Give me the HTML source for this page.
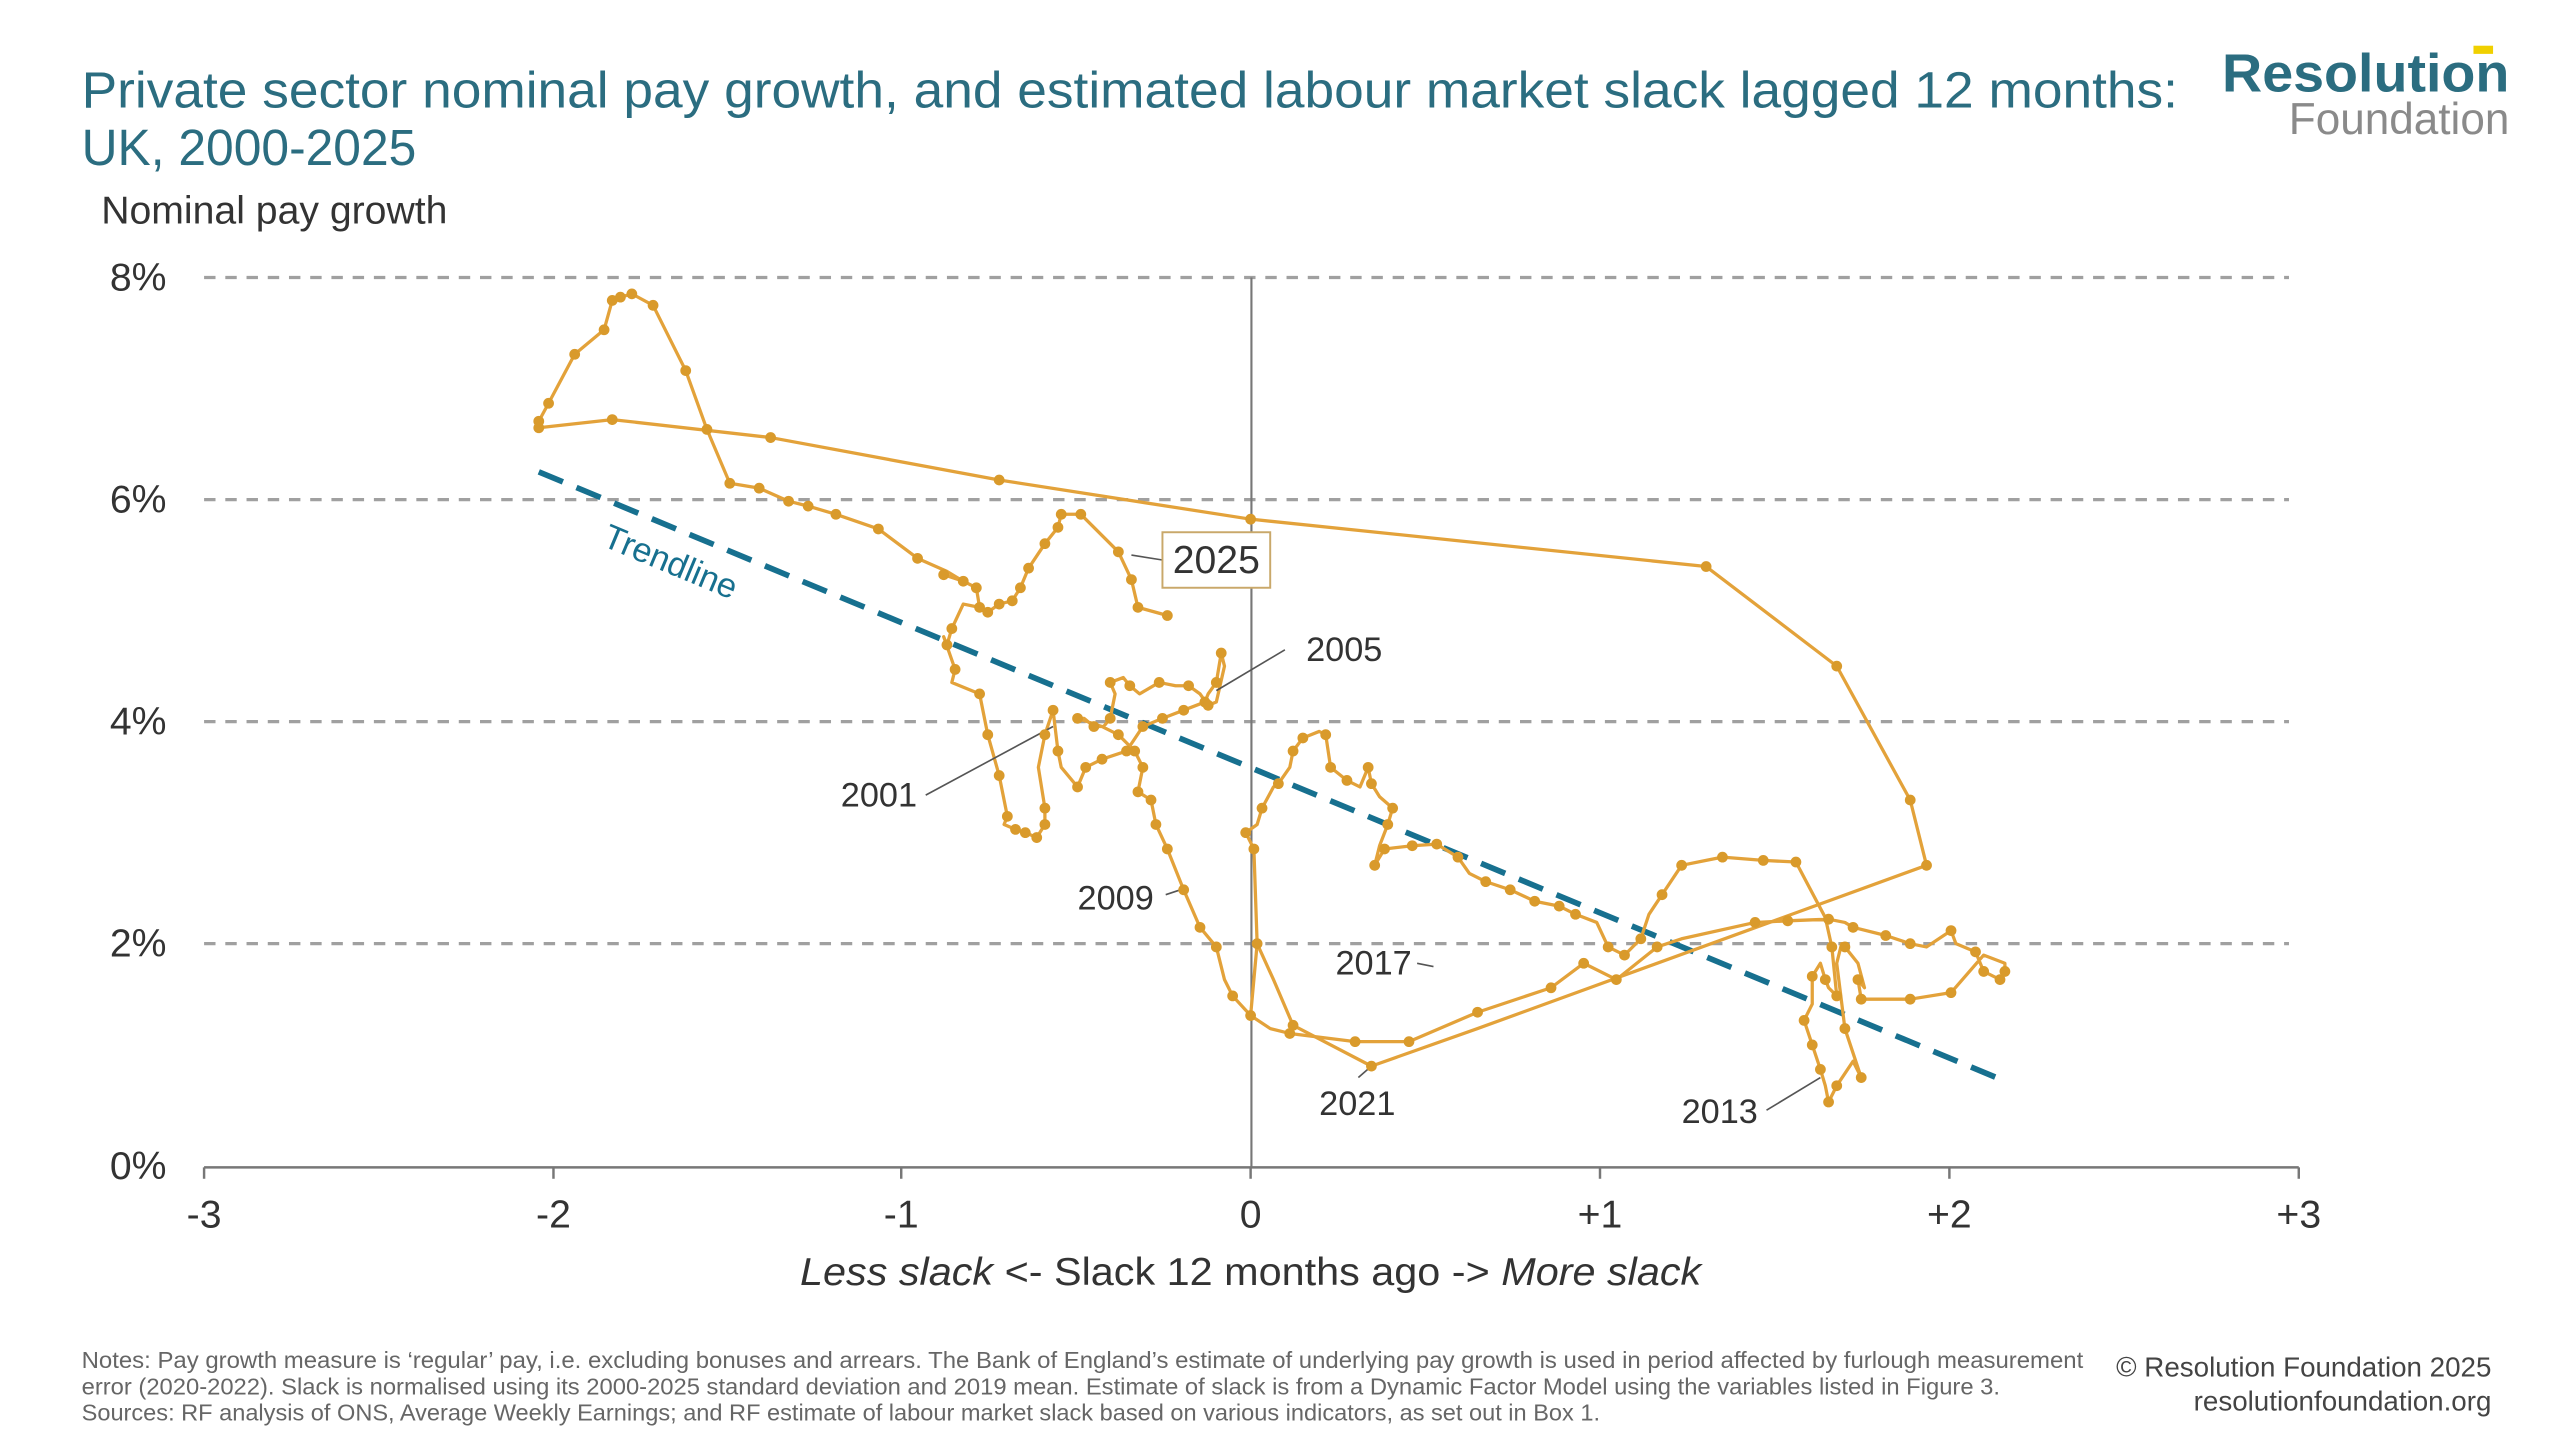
<!DOCTYPE html>
<html><head><meta charset="utf-8"><style>
html,body{margin:0;padding:0;background:#fff;}
svg{display:block;}
text{font-family:"Liberation Sans",sans-serif;}
</style></head><body>
<svg width="2560" height="1440" viewBox="0 0 1568 882" xmlns="http://www.w3.org/2000/svg">
<rect width="1568" height="882" fill="#fff"/>
<text x="50" y="66" font-size="31" fill="#2b6d80" textLength="1284" lengthAdjust="spacingAndGlyphs">Private sector nominal pay growth, and estimated labour market slack lagged 12 months:</text>
<text x="50" y="101" font-size="31" fill="#2b6d80" textLength="205" lengthAdjust="spacingAndGlyphs">UK, 2000-2025</text>
<text x="1537" y="56" font-size="33" font-weight="bold" fill="#2b6d80" text-anchor="end" textLength="176" lengthAdjust="spacingAndGlyphs">Resolution</text>
<rect x="1515" y="28" width="12" height="5" fill="#f0d000"/>
<text x="1537" y="82" font-size="27" fill="#8a8a8a" text-anchor="end">Foundation</text>
<text x="62" y="137" font-size="24" fill="#333">Nominal pay growth</text>
<g stroke="#a0a0a0" stroke-width="2" stroke-dasharray="7,6">
<line x1="125" y1="170" x2="1402" y2="170"/>
<line x1="125" y1="306" x2="1402" y2="306"/>
<line x1="125" y1="442" x2="1402" y2="442"/>
<line x1="125" y1="578" x2="1402" y2="578"/>
</g>
<line x1="766.5" y1="170" x2="766.5" y2="715" stroke="#777" stroke-width="1.3"/>
<line x1="125" y1="715" x2="1408" y2="715" stroke="#777" stroke-width="1.5"/>
<g stroke="#777" stroke-width="1.5">
<line x1="125" y1="715" x2="125" y2="722"/><line x1="339" y1="715" x2="339" y2="722"/><line x1="552" y1="715" x2="552" y2="722"/><line x1="766" y1="715" x2="766" y2="722"/><line x1="980" y1="715" x2="980" y2="722"/><line x1="1194" y1="715" x2="1194" y2="722"/><line x1="1408" y1="715" x2="1408" y2="722"/>
</g>
<g font-size="24" fill="#333" text-anchor="end">
<text x="102" y="178">8%</text><text x="102" y="314">6%</text><text x="102" y="450">4%</text><text x="102" y="586">2%</text><text x="102" y="722">0%</text>
</g>
<g font-size="24" fill="#333" text-anchor="middle">
<text x="125" y="752">-3</text><text x="339" y="752">-2</text><text x="552" y="752">-1</text><text x="766" y="752">0</text><text x="980" y="752">+1</text><text x="1194" y="752">+2</text><text x="1408" y="752">+3</text>
</g>
<text x="766" y="787" font-size="24" fill="#333" text-anchor="middle" textLength="552" lengthAdjust="spacingAndGlyphs"><tspan font-style="italic">Less slack</tspan> &lt;- Slack 12 months ago -&gt; <tspan font-style="italic">More slack</tspan></text>
<line x1="330" y1="289" x2="1230" y2="663" stroke="#17708f" stroke-width="3.5" stroke-dasharray="16,9"/>
<text x="0" y="0" font-size="21" fill="#17708f" transform="translate(368,334) rotate(22.6)">Trendline</text>
<g fill="none" stroke="#e3a23a" stroke-width="2" stroke-linejoin="round">
<polyline points="578,352 590,356 598,360 600,372 590,370 583,385 580,395 578,390 585,410 583,418 600,425 605,450 612,475 617,500 615,505 622,508 628,510 635,513 640,505 640,495 636,470 640,450 645,435 648,460 650,470 660,482 665,470 675,465 690,460 700,445 712,440 725,435 738,430 740,425 745,418 748,400 750,408 745,430 740,432 735,425 728,420 720,420 710,418 698,425 692,420 688,415 680,418 683,425 680,440 676,445 670,445 664,440 660,440 675,445 685,450 695,460 700,470 697,485 705,490 708,505 715,520 725,545 735,568 745,580 750,600 755,610 766,622 778,630 790,633 830,638 863,638 905,620 950,605 970,590 990,600 1015,580 1030,575 1075,565 1095,564 1120,563 1130,565 1135,568 1155,573 1170,578 1180,580 1195,570 1198,578 1210,583 1215,595 1225,600 1228,595 1228,590 1215,585 1195,608 1170,612 1140,612 1138,600 1142,605 1138,590 1130,580 1128,578 1125,590 1130,630 1140,660 1135,650 1125,665 1120,675 1118,665 1115,655 1110,640 1105,625 1110,615 1110,598 1115,590 1118,600 1120,605 1125,610 1122,580 1118,562 1100,528 1080,527 1055,525 1045,527 1030,530 1018,548 1010,560 1005,575 995,585 985,580 978,565 965,560 955,555 940,552 925,545 910,540 900,535 893,525 880,517 865,518 848,520 842,530 845,518 850,505 853,495 845,488 840,480 838,470 833,482 825,478 815,470 812,450 808,448 798,452 792,460 790,470 783,480 780,482 773,495 770,505 763,510 768,520 770,578 766,622"/>
<polyline points="770,578 780,600 792,628 840,653 905,630 1180,530 1170,490 1125,408 1045,347 766,318 612,294 472,268 375,257 330,262 330,258 336,247 352,217 370,202 375,184 380,182 387,180 400,187 420,227 433,263 447,296 465,299 483,307 495,310 512,315 538,324 562,342 580,350 590,356"/>
<polyline points="605,375 612,370 620,368 625,360 630,348 640,333 648,323 650,315 662,315 685,338 693,355 697,372 715,377"/>
</g>
<g stroke="#555" stroke-width="1" fill="none">
<line x1="567" y1="487" x2="645" y2="445"/><line x1="787" y1="398" x2="745" y2="423"/><line x1="714" y1="548" x2="723" y2="545"/><line x1="868" y1="590" x2="878" y2="592"/><line x1="832" y1="660" x2="840" y2="653"/><line x1="1082" y1="680" x2="1115" y2="660"/><line x1="712" y1="343" x2="693" y2="340"/>
</g>
<g font-size="21" fill="#333">
<text x="515" y="494">2001</text><text x="800" y="405">2005</text><text x="660" y="557">2009</text><text x="818" y="597">2017</text><text x="808" y="683">2021</text><text x="1030" y="688">2013</text>
</g>
<rect x="712" y="326" width="66" height="34" fill="#fff" stroke="#c9a86a" stroke-width="1.2"/>
<text x="745" y="351" font-size="24" fill="#333" text-anchor="middle">2025</text>
<g font-size="14.3" fill="#666">
<text x="50" y="838" textLength="1226" lengthAdjust="spacingAndGlyphs">Notes: Pay growth measure is ‘regular’ pay, i.e. excluding bonuses and arrears. The Bank of England’s estimate of underlying pay growth is used in period affected by furlough measurement</text>
<text x="50" y="854" textLength="1175" lengthAdjust="spacingAndGlyphs">error (2020-2022). Slack is normalised using its 2000-2025 standard deviation and 2019 mean. Estimate of slack is from a Dynamic Factor Model using the variables listed in Figure 3.</text>
<text x="50" y="870" textLength="930" lengthAdjust="spacingAndGlyphs">Sources: RF analysis of ONS, Average Weekly Earnings; and RF estimate of labour market slack based on various indicators, as set out in Box 1.</text>
</g>
<g font-size="17" fill="#444" text-anchor="end">
<text x="1526" y="843">© Resolution Foundation 2025</text>
<text x="1526" y="864">resolutionfoundation.org</text>
</g>
<g fill="#d99a2b">
<circle cx="578" cy="352" r="3.3"/><circle cx="590" cy="356" r="3.3"/><circle cx="598" cy="360" r="3.3"/><circle cx="600" cy="372" r="3.3"/><circle cx="583" cy="385" r="3.3"/><circle cx="580" cy="395" r="3.3"/><circle cx="585" cy="410" r="3.3"/><circle cx="600" cy="425" r="3.3"/><circle cx="605" cy="450" r="3.3"/><circle cx="612" cy="475" r="3.3"/><circle cx="617" cy="500" r="3.3"/><circle cx="622" cy="508" r="3.3"/><circle cx="628" cy="510" r="3.3"/><circle cx="635" cy="513" r="3.3"/><circle cx="640" cy="505" r="3.3"/><circle cx="640" cy="495" r="3.3"/><circle cx="640" cy="450" r="3.3"/><circle cx="645" cy="435" r="3.3"/><circle cx="648" cy="460" r="3.3"/><circle cx="660" cy="482" r="3.3"/><circle cx="665" cy="470" r="3.3"/><circle cx="675" cy="465" r="3.3"/><circle cx="690" cy="460" r="3.3"/><circle cx="700" cy="445" r="3.3"/><circle cx="712" cy="440" r="3.3"/><circle cx="725" cy="435" r="3.3"/><circle cx="738" cy="430" r="3.3"/><circle cx="745" cy="418" r="3.3"/><circle cx="748" cy="400" r="3.3"/><circle cx="740" cy="432" r="3.3"/><circle cx="728" cy="420" r="3.3"/><circle cx="710" cy="418" r="3.3"/><circle cx="692" cy="420" r="3.3"/><circle cx="680" cy="418" r="3.3"/><circle cx="680" cy="440" r="3.3"/><circle cx="670" cy="445" r="3.3"/><circle cx="660" cy="440" r="3.3"/><circle cx="685" cy="450" r="3.3"/><circle cx="695" cy="460" r="3.3"/><circle cx="700" cy="470" r="3.3"/><circle cx="697" cy="485" r="3.3"/><circle cx="705" cy="490" r="3.3"/><circle cx="708" cy="505" r="3.3"/><circle cx="715" cy="520" r="3.3"/><circle cx="725" cy="545" r="3.3"/><circle cx="735" cy="568" r="3.3"/><circle cx="745" cy="580" r="3.3"/><circle cx="755" cy="610" r="3.3"/><circle cx="766" cy="622" r="3.3"/><circle cx="790" cy="633" r="3.3"/><circle cx="830" cy="638" r="3.3"/><circle cx="863" cy="638" r="3.3"/><circle cx="905" cy="620" r="3.3"/><circle cx="950" cy="605" r="3.3"/><circle cx="970" cy="590" r="3.3"/><circle cx="990" cy="600" r="3.3"/><circle cx="1015" cy="580" r="3.3"/><circle cx="1075" cy="565" r="3.3"/><circle cx="1095" cy="564" r="3.3"/><circle cx="1120" cy="563" r="3.3"/><circle cx="1135" cy="568" r="3.3"/><circle cx="1155" cy="573" r="3.3"/><circle cx="1170" cy="578" r="3.3"/><circle cx="1195" cy="570" r="3.3"/><circle cx="1210" cy="583" r="3.3"/><circle cx="1215" cy="595" r="3.3"/><circle cx="1225" cy="600" r="3.3"/><circle cx="1228" cy="595" r="3.3"/><circle cx="1195" cy="608" r="3.3"/><circle cx="1170" cy="612" r="3.3"/><circle cx="1140" cy="612" r="3.3"/><circle cx="1138" cy="600" r="3.3"/><circle cx="1130" cy="580" r="3.3"/><circle cx="1130" cy="630" r="3.3"/><circle cx="1140" cy="660" r="3.3"/><circle cx="1125" cy="665" r="3.3"/><circle cx="1120" cy="675" r="3.3"/><circle cx="1115" cy="655" r="3.3"/><circle cx="1110" cy="640" r="3.3"/><circle cx="1105" cy="625" r="3.3"/><circle cx="1110" cy="598" r="3.3"/><circle cx="1118" cy="600" r="3.3"/><circle cx="1125" cy="610" r="3.3"/><circle cx="1122" cy="580" r="3.3"/><circle cx="1100" cy="528" r="3.3"/><circle cx="1080" cy="527" r="3.3"/><circle cx="1055" cy="525" r="3.3"/><circle cx="1030" cy="530" r="3.3"/><circle cx="1018" cy="548" r="3.3"/><circle cx="1005" cy="575" r="3.3"/><circle cx="995" cy="585" r="3.3"/><circle cx="985" cy="580" r="3.3"/><circle cx="965" cy="560" r="3.3"/><circle cx="955" cy="555" r="3.3"/><circle cx="940" cy="552" r="3.3"/><circle cx="925" cy="545" r="3.3"/><circle cx="910" cy="540" r="3.3"/><circle cx="893" cy="525" r="3.3"/><circle cx="880" cy="517" r="3.3"/><circle cx="865" cy="518" r="3.3"/><circle cx="848" cy="520" r="3.3"/><circle cx="842" cy="530" r="3.3"/><circle cx="850" cy="505" r="3.3"/><circle cx="853" cy="495" r="3.3"/><circle cx="840" cy="480" r="3.3"/><circle cx="838" cy="470" r="3.3"/><circle cx="825" cy="478" r="3.3"/><circle cx="815" cy="470" r="3.3"/><circle cx="812" cy="450" r="3.3"/><circle cx="798" cy="452" r="3.3"/><circle cx="792" cy="460" r="3.3"/><circle cx="783" cy="480" r="3.3"/><circle cx="773" cy="495" r="3.3"/><circle cx="763" cy="510" r="3.3"/><circle cx="768" cy="520" r="3.3"/><circle cx="770" cy="578" r="3.3"/><circle cx="792" cy="628" r="3.3"/><circle cx="840" cy="653" r="3.3"/><circle cx="1180" cy="530" r="3.3"/><circle cx="1170" cy="490" r="3.3"/><circle cx="1125" cy="408" r="3.3"/><circle cx="1045" cy="347" r="3.3"/><circle cx="766" cy="318" r="3.3"/><circle cx="612" cy="294" r="3.3"/><circle cx="472" cy="268" r="3.3"/><circle cx="375" cy="257" r="3.3"/><circle cx="330" cy="262" r="3.3"/><circle cx="330" cy="258" r="3.3"/><circle cx="336" cy="247" r="3.3"/><circle cx="352" cy="217" r="3.3"/><circle cx="370" cy="202" r="3.3"/><circle cx="375" cy="184" r="3.3"/><circle cx="380" cy="182" r="3.3"/><circle cx="387" cy="180" r="3.3"/><circle cx="400" cy="187" r="3.3"/><circle cx="420" cy="227" r="3.3"/><circle cx="433" cy="263" r="3.3"/><circle cx="447" cy="296" r="3.3"/><circle cx="465" cy="299" r="3.3"/><circle cx="483" cy="307" r="3.3"/><circle cx="495" cy="310" r="3.3"/><circle cx="512" cy="315" r="3.3"/><circle cx="538" cy="324" r="3.3"/><circle cx="562" cy="342" r="3.3"/><circle cx="605" cy="375" r="3.3"/><circle cx="612" cy="370" r="3.3"/><circle cx="620" cy="368" r="3.3"/><circle cx="625" cy="360" r="3.3"/><circle cx="630" cy="348" r="3.3"/><circle cx="640" cy="333" r="3.3"/><circle cx="648" cy="323" r="3.3"/><circle cx="650" cy="315" r="3.3"/><circle cx="662" cy="315" r="3.3"/><circle cx="685" cy="338" r="3.3"/><circle cx="693" cy="355" r="3.3"/><circle cx="697" cy="372" r="3.3"/><circle cx="715" cy="377" r="3.3"/>
</g>
</svg>
</body></html>
